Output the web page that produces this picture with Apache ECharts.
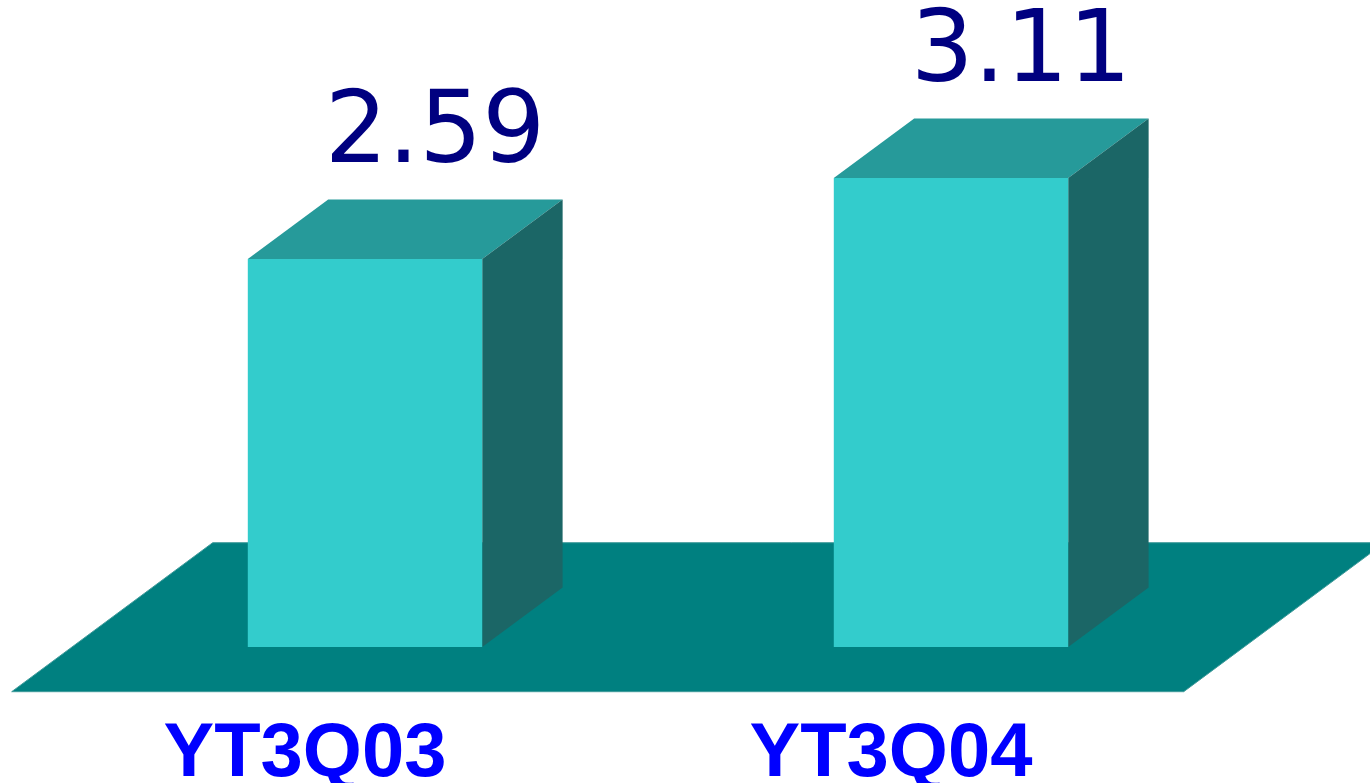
<!DOCTYPE html>
<html>
<head>
<meta charset="utf-8">
<script src="https://cdn.jsdelivr.net/npm/echarts@6/dist/echarts.min.js"></script>
<style>html,body{margin:0;padding:0;background:#fff}#c{width:1370px;height:783px}</style>
</head>
<body>
<div id="c"></div>
<script>
const categories = ['YT3Q03', 'YT3Q04'];
const values = [2.59, 3.11];
const valueLabels = ['2.59', '3.11'];

const DEPTH = [201, -149];   // full floor depth vector (px)
const BAR_FRONT = 0.3, BAR_BACK = 0.7; // fraction of floor depth

const chart = echarts.init(document.getElementById('c'), null, {renderer: 'canvas'});

function floorItem(params, api) {
  const cs = params.coordSys;
  const y0 = cs.y + cs.height;
  const fx = -DEPTH[0] * BAR_FRONT, fy = -DEPTH[1] * BAR_FRONT;
  const bx = DEPTH[0] * BAR_BACK, by = DEPTH[1] * BAR_BACK;
  return {
    type: 'polygon', silent: true,
    shape: {points: [
      [cs.x + fx, y0 + fy],
      [cs.x + cs.width + fx, y0 + fy],
      [cs.x + cs.width + bx, y0 + by],
      [cs.x + bx, y0 + by]
    ]},
    style: {fill: '#008080', stroke: '#3f9a9a', lineWidth: 1}
  };
}

function barItem(params, api) {
  const cs = params.coordSys;
  const top = api.coord([api.value(0), api.value(1)]);
  const y0 = cs.y + cs.height;
  const band = api.size([1, 0])[0];
  const w = band * 0.4;
  const x1 = top[0] - w / 2, x2 = top[0] + w / 2;
  const dx = DEPTH[0] * (BAR_BACK - BAR_FRONT), dy = DEPTH[1] * (BAR_BACK - BAR_FRONT);
  const yt = top[1];
  return {
    type: 'group',
    children: [
      {type: 'polygon', shape: {points: [[x1, yt], [x2, yt], [x2 + dx, yt + dy], [x1 + dx, yt + dy]]},
        style: {fill: '#269a9a'}},
      {type: 'polygon', shape: {points: [[x2, yt], [x2 + dx, yt + dy], [x2 + dx, y0 + dy], [x2, y0]]},
        style: {fill: '#1b6666'}},
      {type: 'rect', shape: {x: x1, y: yt, width: w, height: y0 - yt},
        style: {fill: '#33cccc'}},
      {type: 'text', x: top[0] + 70, y: yt - 123,
        style: {text: valueLabels[params.dataIndex], fill: '#000080',
          font: '99px "DejaVu Sans"', align: 'center', verticalAlign: 'middle'}}
    ]
  };
}

chart.setOption({
  animation: false,
  grid: {left: 72, right: 126, top: 39.4, bottom: 136, outerBoundsMode: 'none', containLabel: false},
  xAxis: {
    type: 'category', data: categories,
    axisLine: {show: false}, axisTick: {show: false}, splitLine: {show: false},
    axisLabel: {
      color: '#0000ff', fontFamily: 'Liberation Sans', fontWeight: 'bold', fontSize: 76,
      margin: 70, padding: [0, 120, 0, 0], align: 'center'
    }
  },
  yAxis: {
    type: 'value', min: 0.1, max: 4, show: false, splitLine: {show: false}
  },
  series: [
    {type: 'custom', renderItem: floorItem, data: [[0, 0]], silent: true, z: 1},
    {type: 'custom', renderItem: barItem, data: categories.map((c, i) => [i, values[i]]), z: 2}
  ]
});
</script>
</body>
</html>
